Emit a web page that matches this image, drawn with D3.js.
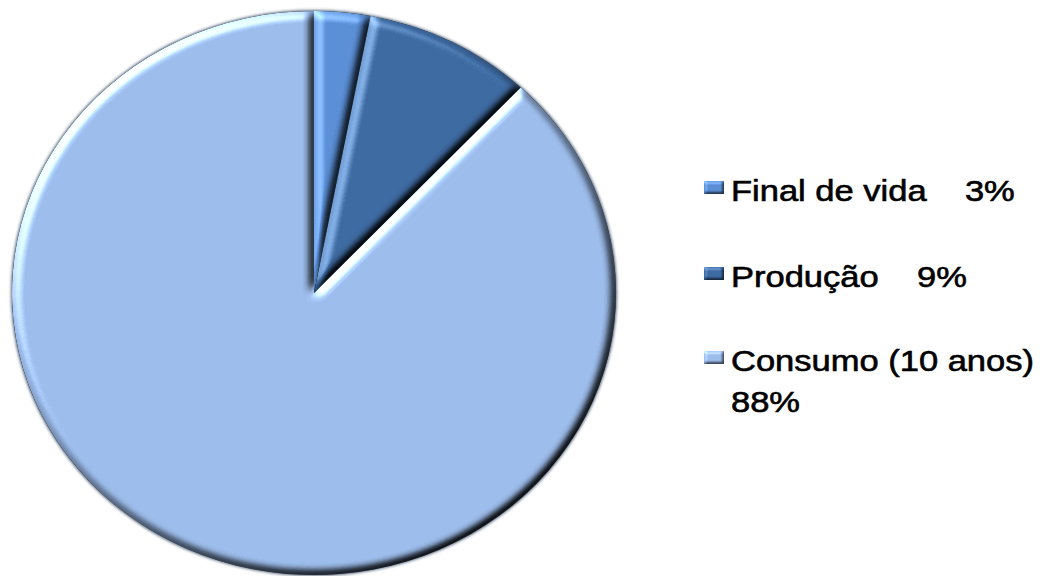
<!DOCTYPE html>
<html>
<head>
<meta charset="utf-8">
<script src="https://cdn.jsdelivr.net/npm/d3@7"></script>
<style>
  html, body { margin: 0; padding: 0; background: #fff; }
  svg { display: block; }
  .legend text { font-family: "Liberation Sans", Arial, sans-serif; font-size: 29px; fill: #000; white-space: pre; }
</style>
</head>
<body>
<svg id="chart" width="1044" height="576"></svg>
<script>
// Life-cycle energy share of the product
const categories = ["Final de vida", "Produção", "Consumo (10 anos)"];
const shares = [3, 9, 88];
const valueLabels = ["3%", "9%", "88%"];
const sliceColors = ["#5b8fd6", "#3e6ba2", "#9dbdec"];

const stretchX = 1.071;          // pie is drawn slightly wider than tall
const textStretch = 1.19;        // legend lettering is wide
const cx = 293.2, cy = 293, R = 282;

const svg = d3.select("#chart");
const defs = svg.append("defs");

// Soft bevel: top-left light on a blurred alpha surface.
// Highlights are added, shadows multiplied in.
function makeBevel(id, blur, scale, hi, lo) {
  const f = defs.append("filter")
    .attr("id", id)
    .attr("x", "-10%").attr("y", "-10%").attr("width", "120%").attr("height", "120%")
    .attr("color-interpolation-filters", "sRGB");
  f.append("feGaussianBlur").attr("in", "SourceAlpha").attr("stdDeviation", blur).attr("result", "blur");
  f.append("feDiffuseLighting")
    .attr("in", "blur").attr("surfaceScale", scale).attr("diffuseConstant", 1)
    .attr("lighting-color", "#ffffff").attr("result", "light")
    .append("feDistantLight").attr("azimuth", 230).attr("elevation", 50);
  const flat = Math.sin(50 * Math.PI / 180);
  const hiT = f.append("feComponentTransfer").attr("in", "light").attr("result", "hi");
  ["feFuncR", "feFuncG", "feFuncB"].forEach(c =>
    hiT.append(c).attr("type", "linear").attr("slope", 1).attr("intercept", -flat));
  const loT = f.append("feComponentTransfer").attr("in", "light").attr("result", "shade");
  ["feFuncR", "feFuncG", "feFuncB"].forEach(c =>
    loT.append(c).attr("type", "linear").attr("slope", lo).attr("intercept", 1 - lo * flat));
  f.append("feComposite")
    .attr("in", "SourceGraphic").attr("in2", "hi").attr("operator", "arithmetic")
    .attr("k1", 0).attr("k2", 1).attr("k3", hi).attr("k4", 0).attr("result", "lit");
  f.append("feComposite")
    .attr("in", "lit").attr("in2", "shade").attr("operator", "arithmetic")
    .attr("k1", 1).attr("k2", 0).attr("k3", 0).attr("k4", 0).attr("result", "shaded");
  f.append("feComposite").attr("in", "shaded").attr("in2", "SourceAlpha").attr("operator", "in");
}
makeBevel("bevel", 4.5, 7, 1.7, 1.15);
makeBevel("bevelSmall", 1.6, 3, 1.0, 0.8);

// Thin dark halo around the whole pie
const halo = defs.append("filter").attr("id", "halo")
  .attr("x", "-5%").attr("y", "-5%").attr("width", "110%").attr("height", "110%");
halo.append("feGaussianBlur").attr("stdDeviation", 1.4);

const root = svg.append("g").attr("transform", `scale(${stretchX},1)`);

const pie = d3.pie().sort(null).value(d => d)(shares);
const arc = d3.arc().innerRadius(0).outerRadius(R);

const pieG = root.append("g").attr("transform", `translate(${cx},${cy})`);

pieG.append("circle")
  .attr("r", R + 0.8)
  .attr("fill", "#2b3f5c")
  .attr("opacity", 0.85)
  .attr("filter", "url(#halo)");

pieG.selectAll("path.slice")
  .data(pie)
  .join("path")
  .attr("class", "slice")
  .attr("d", arc)
  .attr("fill", (d, i) => sliceColors[i])
  .attr("filter", "url(#bevel)");

// Legend (screen coordinates)
const legend = svg.append("g").attr("class", "legend");
const legendX = 731;
const rowBaselines = [201, 287, 371];
const lineGap = 41;

const rows = legend.selectAll("g.row")
  .data(categories)
  .join("g")
  .attr("class", "row");

rows.append("rect")
  .attr("x", legendX - 27)
  .attr("y", (d, i) => rowBaselines[i] - 20)
  .attr("width", 20)
  .attr("height", 13)
  .attr("fill", (d, i) => sliceColors[i])
  .attr("filter", "url(#bevelSmall)");

rows.append("text")
  .attr("transform", (d, i) => `translate(${legendX},${rowBaselines[i]}) scale(${textStretch},1)`)
  .attr("stroke", "#000").attr("stroke-width", 0.6)
  .each(function(d, i) {
    const t = d3.select(this);
    if (i < 2) {
      t.text(`${d}    ${valueLabels[i]}`);
    } else {
      t.append("tspan").attr("x", 0).text(d);
      t.append("tspan").attr("x", 0).attr("dy", lineGap).text(valueLabels[i]);
    }
  });
</script>
</body>
</html>
